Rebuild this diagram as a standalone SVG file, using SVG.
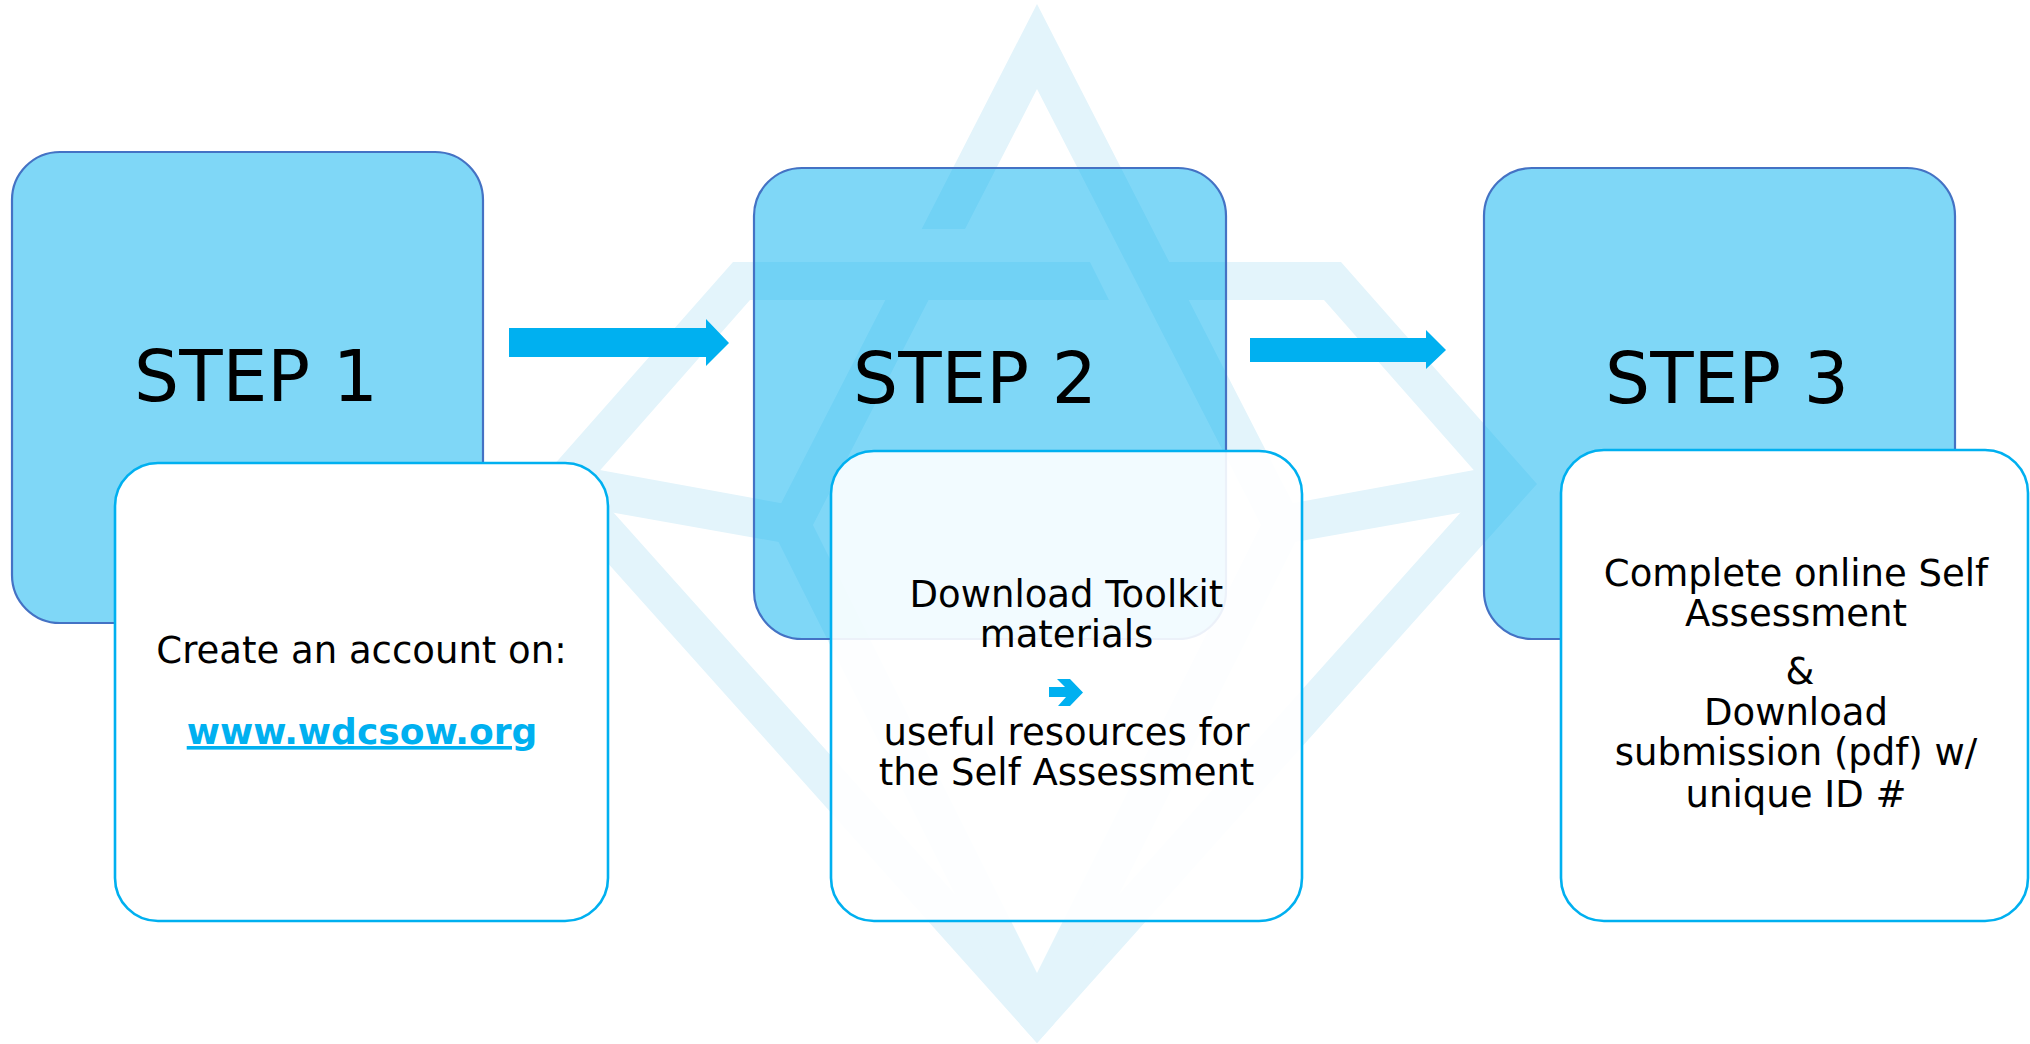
<svg xmlns="http://www.w3.org/2000/svg" width="2030" height="1044" viewBox="0 0 2030 1044">
<defs>
<style>
.star{fill:#E3F4FB}
.gap{fill:#FFFFFF}
.stepbox{fill:#00B0F0;fill-opacity:0.5;stroke:#4472C4;stroke-width:2.2}
.detail{fill:#FFFFFF;stroke:#00B0F0;stroke-width:2.6}
.detail-soft{fill:#FFFFFF;fill-opacity:0.9;stroke:#00B0F0;stroke-width:2.6}
.steplabel{font-family:"DejaVu Sans","Liberation Sans",sans-serif;font-size:71px;fill:#000000;text-anchor:middle}
.body{font-family:"DejaVu Sans","Liberation Sans",sans-serif;font-size:37px;fill:#000000;text-anchor:middle}
.link{font-family:"DejaVu Sans","Liberation Sans",sans-serif;font-size:36px;font-weight:bold;fill:#00B0F0;text-anchor:middle;text-decoration:underline}
.arrow{fill:#00B0F0}
</style>
<clipPath id="rhombusClip">
<polygon points="95,-10 1979,-10 1037,1043"/>
</clipPath>
</defs>
<rect x="0" y="0" width="2030" height="1044" fill="#FFFFFF"/>

<g id="watermark">
<path class="star" fill-rule="evenodd" d="M733,262 L1341,262 L1537,484 L1037,1043 L537,484 Z M750,300 L588,484 L1037,986 L1486,484 L1324,300 Z"/>
<path class="star" fill-rule="evenodd" clip-path="url(#rhombusClip)" d="M1037,4 L1304,525 L1037,1058 L770,525 Z M1037,89 L813,525 L1037,973 L1261,525 Z"/>
<polygon class="star" points="560,462.7 790,504.8 790,544 560,503.2"/>
<polygon class="star" points="1514,462.7 1284,504.8 1284,544 1514,503.2"/>
<polygon class="gap" points="918,229 970,229 955,262 900,262"/>
<polygon class="gap" points="1090,262 1126,262 1145.5,300 1109,300"/>
</g>

<g id="step1">
<rect class="stepbox" x="12" y="152" width="471" height="471" rx="48" ry="48"/>
<text class="steplabel" x="256" y="401">STEP 1</text>
</g>
<g id="step1-detail">
<rect class="detail" x="115" y="463" width="493" height="458" rx="43" ry="43"/>
<text class="body" x="361.5" y="663">Create an account on:</text>
<text class="link" x="362" y="744">www.wdcsow.org</text>
</g>

<g id="step2">
<rect class="stepbox" x="754" y="168" width="472" height="471" rx="48" ry="48"/>
<text class="steplabel" x="975" y="403">STEP 2</text>
</g>
<g id="step2-detail">
<rect class="detail-soft" x="831" y="451" width="471" height="470" rx="43" ry="43"/>
<text class="body" x="1066.5" y="607">Download Toolkit</text>
<text class="body" x="1066.5" y="647">materials</text>
<path class="arrow" d="M1049,687 H1065 L1057,679 H1070 L1083,692.5 L1070,706 H1058 L1066,697 H1049 Z"/>
<text class="body" x="1066.5" y="745">useful resources for</text>
<text class="body" x="1066.5" y="785">the Self Assessment</text>
</g>

<g id="step3">
<rect class="stepbox" x="1484" y="168" width="471" height="471" rx="48" ry="48"/>
<text class="steplabel" x="1727" y="403">STEP 3</text>
</g>
<g id="step3-detail">
<rect class="detail" x="1561" y="450" width="467" height="471" rx="43" ry="43"/>
<text class="body" x="1796" y="586">Complete online Self</text>
<text class="body" x="1796" y="626">Assessment</text>
<text class="body" x="1800" y="684">&amp;</text>
<text class="body" x="1796" y="725">Download</text>
<text class="body" x="1796" y="765">submission (pdf) w/</text>
<text class="body" x="1796" y="807">unique ID #</text>
</g>

<g id="connectors">
<polygon class="arrow" points="509,328 706,328 706,319 729,343 706,366 706,357 509,357"/>
<polygon class="arrow" points="1250,338 1426,338 1426,330 1446,350 1426,369 1426,362 1250,362"/>
</g>
</svg>
